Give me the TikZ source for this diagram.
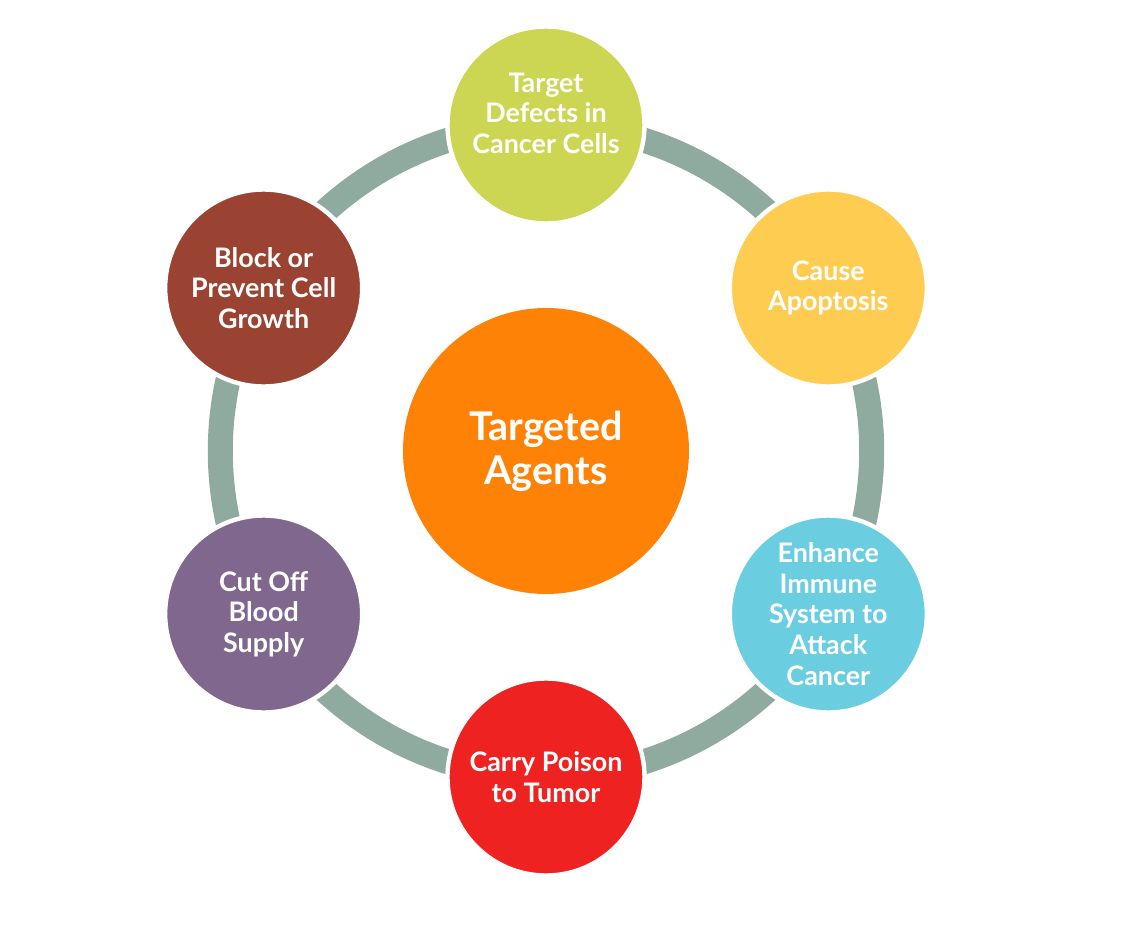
\documentclass[tikz,border=0pt]{standalone}
\usepackage{fontspec}
\setsansfont{Lato}
\usepackage{tikz}
\usetikzlibrary{backgrounds}

\definecolor{hubOrange}{RGB}{253,130,6}
\definecolor{ringGreen}{RGB}{143,170,158}
\definecolor{limeGreen}{RGB}{205,214,83}
\definecolor{sunYellow}{RGB}{254,204,80}
\definecolor{skyCyan}{RGB}{107,206,224}
\definecolor{tumorRed}{RGB}{237,34,33}
\definecolor{bloodPurple}{RGB}{127,103,141}
\definecolor{rustBrown}{RGB}{155,67,50}

\begin{document}
\begin{tikzpicture}[font=\sffamily\bfseries,
    hub/.style={circle, fill=hubOrange, minimum size=5.72cm, inner sep=0pt, text=white, align=center,
      font=\sffamily\bfseries\fontsize{22.5}{25}\selectfont},
    agent/.style={circle, draw=white, line width=2.5pt, minimum size=3.94cm, inner sep=0pt, text=white, align=center,
      font=\sffamily\bfseries\fontsize{15.3}{17.4}\selectfont},
    ring/.style={draw=ringGreen, line width=0.5cm, bend left=30, looseness=0.91}]
\useasboundingbox (-10.92,-9.5) rectangle (11.64,9.02);
% centre
\node[hub] (agents) at (0,0) {Targeted\\Agents};
% six ways the agents work
\node[agent, fill=limeGreen, text depth=0.48cm] (defects) at (90:6.52) {Target\\Defects in\\Cancer Cells};
\node[agent, fill=sunYellow] (apoptosis) at (30:6.52) {Cause\\Apoptosis};
\node[agent, fill=skyCyan] (immune) at (-30:6.52) {Enhance\\Immune\\System to\\Attack\\Cancer};
\node[agent, fill=tumorRed] (poison) at (-90:6.52) {Carry Poison\\to Tumor};
\node[agent, fill=bloodPurple] (blood) at (-150:6.52) {Cut Off\\Blood\\Supply};
\node[agent, fill=rustBrown] (growth) at (150:6.52) {Block or\\Prevent Cell\\Growth};
% ring behind the circles
\begin{scope}[on background layer]
\fill[white] (-10.92,-9.5) rectangle (11.64,9.02);
\draw[ring] (defects.center) to (apoptosis.center);
\draw[ring] (apoptosis.center) to (immune.center);
\draw[ring] (immune.center) to (poison.center);
\draw[ring] (poison.center) to (blood.center);
\draw[ring] (blood.center) to (growth.center);
\draw[ring] (growth.center) to (defects.center);
\end{scope}
\end{tikzpicture}
\end{document}
